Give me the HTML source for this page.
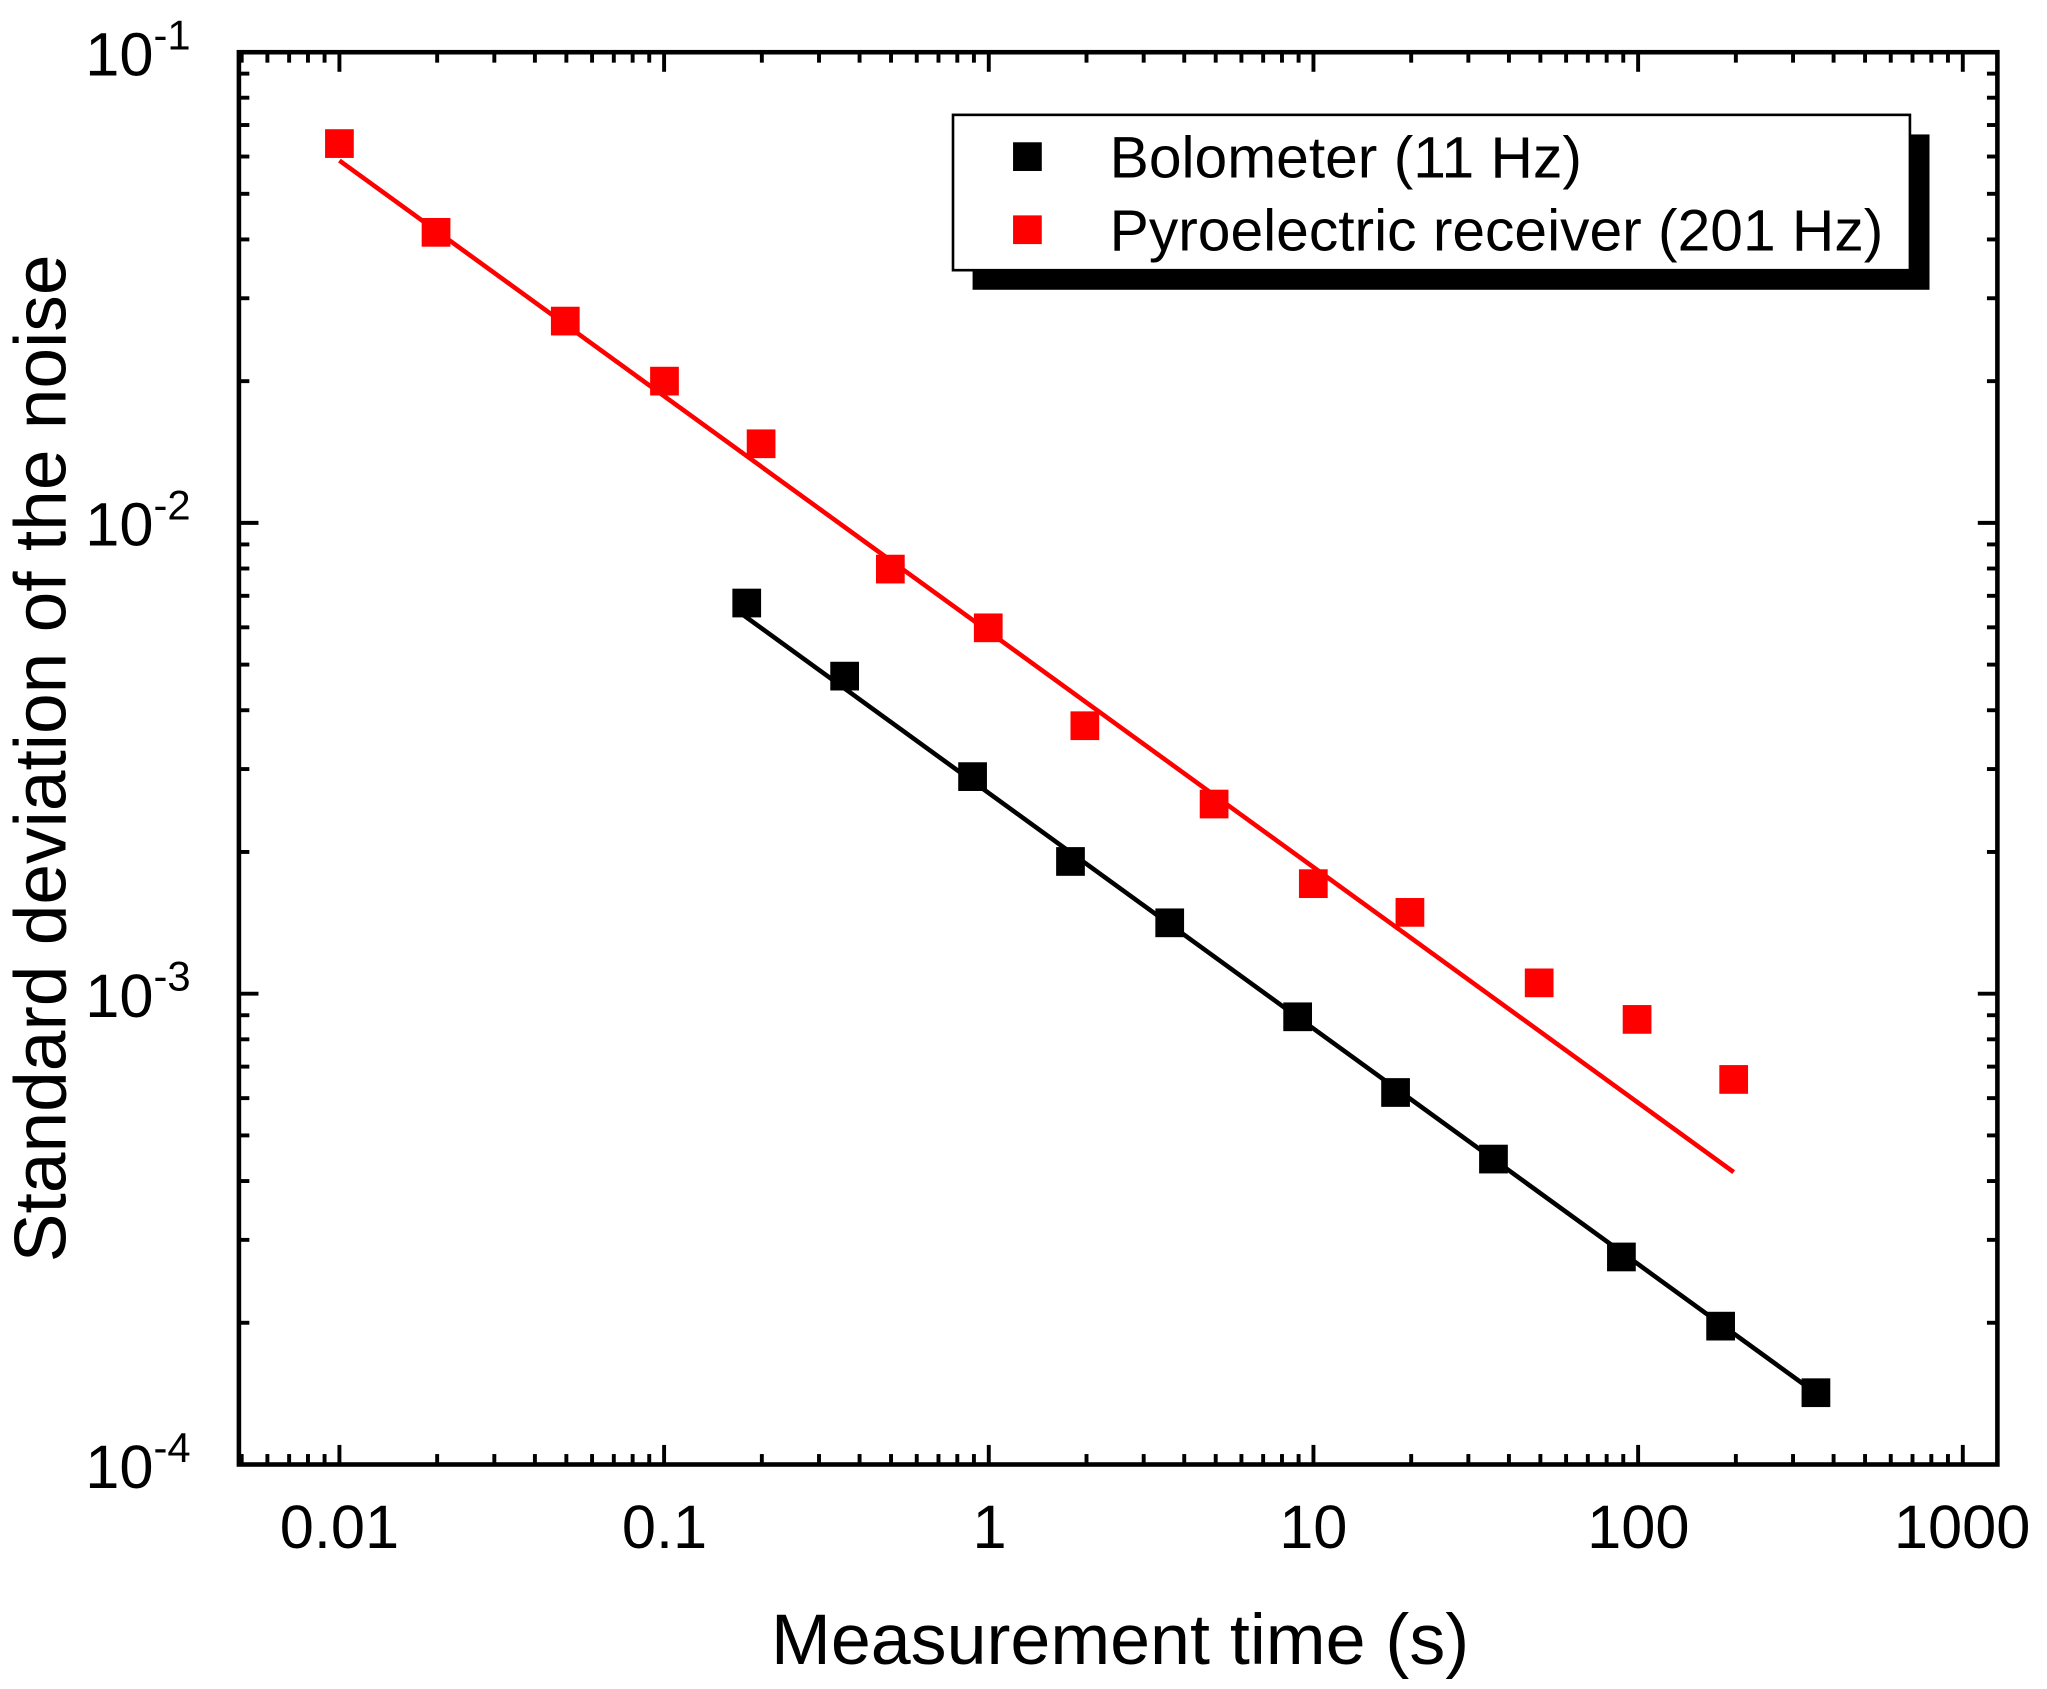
<!DOCTYPE html>
<html><head><meta charset="utf-8"><style>
html,body{margin:0;padding:0;background:#fff;}
svg{display:block;}
text{font-family:"Liberation Sans",Arial,sans-serif;fill:#000;}
</style></head><body>
<svg id="s" width="2047" height="1689" viewBox="0 0 1568 1294" preserveAspectRatio="none" xmlns="http://www.w3.org/2000/svg">
<g id="ticks" stroke="#000" stroke-width="3"></g>
<rect x="183" y="40" width="1347" height="1082" fill="none" stroke="#000" stroke-width="3.5"/>
<line x1="260" y1="123" x2="1328" y2="898" stroke="#f00" stroke-width="3.5"/>
<line x1="565" y1="468" x2="1385" y2="1063" stroke="#000" stroke-width="3.5"/>
<g fill="#f00">
<rect x="249" y="99" width="22" height="22"/>
<rect x="323" y="167" width="22" height="22"/>
<rect x="422" y="235" width="22" height="22"/>
<rect x="498" y="281" width="22" height="22"/>
<rect x="572" y="329" width="22" height="22"/>
<rect x="671" y="425" width="22" height="22"/>
<rect x="746" y="470" width="22" height="22"/>
<rect x="820" y="545" width="22" height="22"/>
<rect x="919" y="605" width="22" height="22"/>
<rect x="995" y="666" width="22" height="22"/>
<rect x="1069" y="688" width="22" height="22"/>
<rect x="1168" y="742" width="22" height="22"/>
<rect x="1243" y="770" width="22" height="22"/>
<rect x="1317" y="816" width="22" height="22"/>
</g>
<g fill="#000">
<rect x="561" y="451" width="22" height="22"/>
<rect x="636" y="507" width="22" height="22"/>
<rect x="734" y="584" width="22" height="22"/>
<rect x="809" y="649" width="22" height="22"/>
<rect x="885" y="696" width="22" height="22"/>
<rect x="983" y="768" width="22" height="22"/>
<rect x="1058" y="826" width="22" height="22"/>
<rect x="1133" y="877" width="22" height="22"/>
<rect x="1231" y="952" width="22" height="22"/>
<rect x="1307" y="1005" width="22" height="22"/>
<rect x="1380" y="1056" width="22" height="22"/>
</g>
<rect x="745" y="103" width="733" height="119" fill="#000"/>
<rect x="730" y="88" width="733" height="119" fill="#fff" stroke="#000" stroke-width="2"/>
<rect x="776" y="109" width="22" height="22" fill="#000"/>
<rect x="776" y="165" width="22" height="22" fill="#f00"/>
<text x="850" y="136" font-size="45">Bolometer (11 Hz)</text>
<text x="850" y="192" font-size="45">Pyroelectric receiver (201 Hz)</text>
<g font-size="47" text-anchor="middle">
<text x="260" y="1186">0.01</text>
<text x="509" y="1186">0.1</text>
<text x="758" y="1186">1</text>
<text x="1006" y="1186">10</text>
<text x="1255" y="1186">100</text>
<text x="1503" y="1186">1000</text>
</g>
<g font-size="47" text-anchor="end">
<text x="146" y="58">10<tspan font-size="32" dy="-20">-1</tspan></text>
<text x="146" y="418">10<tspan font-size="32" dy="-20">-2</tspan></text>
<text x="146" y="779">10<tspan font-size="32" dy="-20">-3</tspan></text>
<text x="146" y="1140">10<tspan font-size="32" dy="-20">-4</tspan></text>
</g>
<text x="858" y="1275" font-size="55" text-anchor="middle">Measurement time (s)</text>
<text transform="translate(50,581) rotate(-90)" font-size="56" text-anchor="middle">Standard deviation of the noise</text>
</svg>
<script>
(function(){
var g=document.getElementById('ticks'),ns='http://www.w3.org/2000/svg';
function L(a,b,c,d){var l=document.createElementNS(ns,'line');l.setAttribute('x1',a);l.setAttribute('y1',b);l.setAttribute('x2',c);l.setAttribute('y2',d);g.appendChild(l);}
var X0=260,DX=248.7,L0=183,R0=1530,T0=40,B0=1122,DY=360.7;
for(var e=-3;e<=3;e++)for(var m=1;m<10;m++){var x=X0+(e+2+Math.log10(m))*DX;if(x<L0+1||x>R0-1)continue;var len=m==1?15:8;L(x,B0,x,B0-len);L(x,T0,x,T0+len);}
for(var e=-4;e<=-2;e++)for(var m=1;m<10;m++){var y=B0-(e+4+Math.log10(m))*DY;if(y<T0+1||y>B0-1)continue;var len=m==1?15:8;L(L0,y,L0+len,y);L(R0,y,R0-len,y);}
})();
</script>
</body></html>
